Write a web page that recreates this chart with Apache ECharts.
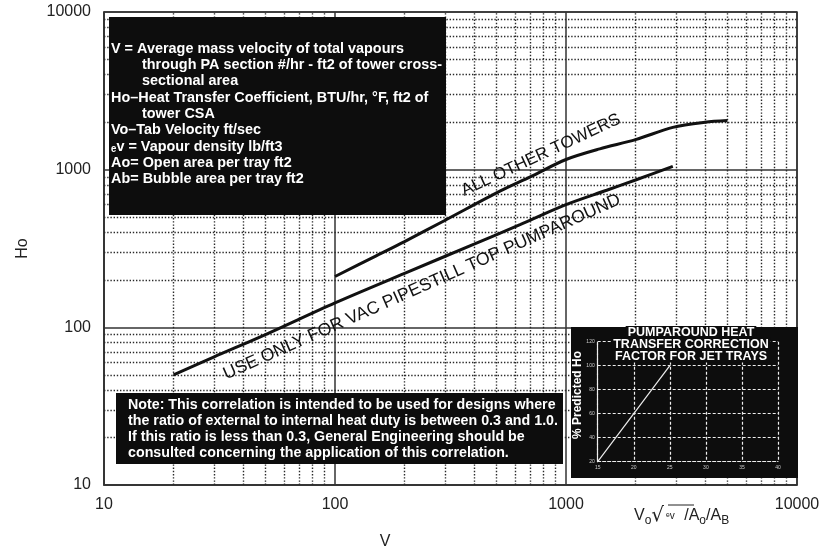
<!DOCTYPE html>
<html><head><meta charset="utf-8">
<script src="https://cdn.jsdelivr.net/npm/echarts@6/dist/echarts.min.js"></script>
<style>html,body{margin:0;padding:0;background:#fff}#c{width:829px;height:552px}</style>
</head><body><div id="c"></div>
<script>
// ---- data ----
const xTickLabels = [10, 100, 1000, 10000];
const yTickLabels = [10, 100, 1000, 10000];
const minorMultipliers = [2, 3, 4, 5, 6, 7, 8, 9];
const decades = [10, 100, 1000];
const allOtherV  = [100, 150, 200, 300, 520, 700, 1000, 1400, 2000, 2900, 4000, 5000];
const allOtherHo = [210, 283, 350, 478, 733, 900, 1160, 1355, 1550, 1855, 2000, 2050];
const vacPaV  = [20, 30, 50, 100, 200, 400, 636, 1000, 1500, 2000, 2900];
const vacPaHo = [50, 65, 90, 143, 220, 337, 450, 600, 740, 860, 1050];
const insetRatio = [15, 25];
const insetPct = [20, 100];
const legendLines = [
  [0, 'V = Average mass velocity of total vapours'],
  [1, 'through PA section #/hr - ft2 of tower cross-'],
  [1, 'sectional area'],
  [0, 'Ho\u2013Heat Transfer Coefficient, BTU/hr, \u00b0F, ft2 of'],
  [1, 'tower CSA'],
  [0, 'Vo\u2013Tab Velocity ft/sec'],
  [0, '\u2091v = Vapour density lb/ft3'],
  [0, 'Ao= Open area per tray ft2'],
  [0, 'Ab= Bubble area per tray ft2']
];
const noteLines = [
  'Note: This correlation is intended to be used for designs where',
  'the ratio of external to internal heat duty is between 0.3 and 1.0.',
  'If this ratio is less than 0.3, General Engineering should be',
  'consulted concerning the application of this correlation.'
];
const insetTitle = ['PUMPAROUND HEAT', 'TRANSFER CORRECTION', 'FACTOR FOR JET TRAYS'];
const curveLabels = ['ALL OTHER TOWERS', 'USE ONLY FOR VAC PIPESTILL TOP PUMPAROUND'];

// ---- build ----
const FONT = '"Liberation Sans", Arial, Helvetica, sans-serif';
const minorVals = [];
decades.forEach(d => minorMultipliers.forEach(m => minorVals.push(m * d)));
const dotted = { type: [1.4, 1.8], color: '#2a2a2a', width: 1.4 };

const chart = echarts.init(document.getElementById('c'), null, { renderer: 'canvas' });

const graphics = [];
// legend box
graphics.push({ type: 'rect', z: 100, shape: { x: 109, y: 17, width: 337, height: 198 }, style: { fill: '#0d0d0d' } });
legendLines.forEach((l, i) => {
  graphics.push({ type: 'text', z: 101, x: 111 + l[0] * 31, y: 48.5 + 16.3 * i, scaleX: 0.93,
    style: { text: l[1], fill: '#fff', font: 'bold 15.5px ' + FONT, align: 'left', verticalAlign: 'middle', textAlign: 'left', textVerticalAlign: 'middle' } });
});
// note box
graphics.push({ type: 'rect', z: 100, shape: { x: 116, y: 393, width: 447, height: 71 }, style: { fill: '#0d0d0d' } });
noteLines.forEach((t, i) => {
  graphics.push({ type: 'text', z: 101, x: 128, y: 405 + 16 * i, scaleX: 0.95,
    style: { text: t, fill: '#fff', font: 'bold 15px ' + FONT, align: 'left', verticalAlign: 'middle', textAlign: 'left', textVerticalAlign: 'middle' } });
});
// inset box
graphics.push({ type: 'rect', z: 100, shape: { x: 571, y: 327, width: 227, height: 151 }, style: { fill: '#0d0d0d' } });
insetTitle.forEach((t, i) => {
  graphics.push({ type: 'text', z: 120, x: 691, y: 332.5 + 11.8 * i,
    style: { text: t, fill: '#fff', font: 'bold 12.5px ' + FONT, align: 'center', verticalAlign: 'middle', textAlign: 'center', textVerticalAlign: 'middle', backgroundColor: '#0d0d0d', padding: [0, 2] } });
});
graphics.push({ type: 'text', z: 120, x: 578, y: 395, rotation: Math.PI / 2,
  style: { text: '% Predicted Ho', fill: '#fff', font: 'bold 12px ' + FONT, align: 'center', verticalAlign: 'middle', textAlign: 'center', textVerticalAlign: 'middle' } });
// curve labels
graphics.push({ type: 'text', z: 50, x: 541, y: 155, rotation: 25 * Math.PI / 180,
  style: { text: curveLabels[0], fill: '#111', font: '17px ' + FONT, align: 'center', verticalAlign: 'middle', textAlign: 'center', textVerticalAlign: 'middle' } });
graphics.push({ type: 'text', z: 50, x: 422, y: 287, rotation: 24 * Math.PI / 180,
  style: { text: curveLabels[1], fill: '#111', font: '17.6px ' + FONT, align: 'center', verticalAlign: 'middle', textAlign: 'center', textVerticalAlign: 'middle' } });
// axis titles
graphics.push({ type: 'text', z: 50, x: 385, y: 542,
  style: { text: 'V', fill: '#222', font: '16px ' + FONT, align: 'center', verticalAlign: 'middle', textAlign: 'center', textVerticalAlign: 'middle' } });
graphics.push({ type: 'text', z: 50, x: 634, y: 516,
  style: { text: '{v|V}{s|o}{r|\u221A}{e|\u1D49v}{v| /A}{s|o}{v|/A}{s|B}', fill: '#222', font: '16px ' + FONT,
    align: 'left', verticalAlign: 'middle', textAlign: 'left', textVerticalAlign: 'middle',
    rich: {
      v: { fontSize: 16, fontFamily: FONT, fill: '#222', color: '#222' },
      s: { fontSize: 12, fontFamily: FONT, padding: [9, 0, 0, 0], fill: '#222', color: '#222' },
      r: { fontSize: 20, fontFamily: 'DejaVu Sans', fill: '#222', color: '#222' },
      e: { fontSize: 10, fontFamily: FONT, padding: [0, 5, 0, 2], fill: '#222', color: '#222' }
    } } });
graphics.push({ type: 'line', z: 50, shape: { x1: 668, y1: 505, x2: 694, y2: 505 }, style: { stroke: '#222', lineWidth: 1 } });

const option = {
  animation: false,
  backgroundColor: '#fff',
  grid: [
    { left: 104, right: 32, top: 12, bottom: 67, show: true, borderColor: '#333', borderWidth: 1.5, backgroundColor: 'transparent' },
    { left: 597.7, top: 341.7, width: 180.3, height: 120, show: false }
  ],
  xAxis: [
    { type: 'log', logBase: 10, min: xTickLabels[0], max: xTickLabels[xTickLabels.length - 1], gridIndex: 0,
      axisLine: { show: true, lineStyle: { color: '#333', width: 1.5 } },
      axisTick: { show: false },
      axisLabel: { color: '#222', fontSize: 16, fontFamily: FONT, margin: 12, formatter: v => String(Math.round(v)) },
      splitLine: { show: true, lineStyle: { color: '#333', width: 1.5, type: 'solid' } } },
    { type: 'value', gridIndex: 1, min: 15, max: 40, interval: 5, z: 110,
      axisLine: { show: true, lineStyle: { color: '#eee', width: 1.2, type: [3, 2] } },
      axisTick: { show: false },
      axisLabel: { color: '#ccc', fontSize: 5, margin: 3 },
      splitLine: { show: true, lineStyle: { color: '#eee', width: 1.2, type: [3, 2] } } }
  ],
  yAxis: [
    { type: 'log', logBase: 10, min: yTickLabels[0], max: yTickLabels[yTickLabels.length - 1], gridIndex: 0,
      name: 'Ho', nameLocation: 'middle', nameGap: 73,
      nameTextStyle: { color: '#222', fontSize: 16, fontFamily: FONT },
      axisLine: { show: true, lineStyle: { color: '#333', width: 1.5 } },
      axisTick: { show: false },
      axisLabel: { color: '#222', fontSize: 16, fontFamily: FONT, margin: 13, formatter: v => String(Math.round(v)) },
      splitLine: { show: true, lineStyle: { color: '#333', width: 1.5, type: 'solid' } } },
    { type: 'value', gridIndex: 1, min: 20, max: 120, interval: 20, z: 110,
      axisLine: { show: true, lineStyle: { color: '#eee', width: 1.2, type: [3, 2] } },
      axisTick: { show: false },
      axisLabel: { color: '#ccc', fontSize: 5, margin: 3 },
      splitLine: { show: true, lineStyle: { color: '#eee', width: 1.2, type: [3, 2] } } }
  ],
  series: [
    { name: 'All other towers', type: 'line', xAxisIndex: 0, yAxisIndex: 0, z: 5,
      data: allOtherV.map((v, i) => [v, allOtherHo[i]]), smooth: 0.3, showSymbol: false, symbol: 'none',
      lineStyle: { color: '#111', width: 3 },
      markLine: { silent: true, symbol: ['none', 'none'], label: { show: false }, lineStyle: dotted, z: 1,
        data: minorVals.map(v => ({ xAxis: v })) } },
    { name: 'Vac pipestill top PA', type: 'line', xAxisIndex: 0, yAxisIndex: 0, z: 5,
      data: vacPaV.map((v, i) => [v, vacPaHo[i]]), smooth: 0.3, showSymbol: false, symbol: 'none',
      lineStyle: { color: '#111', width: 3 },
      markLine: { silent: true, symbol: ['none', 'none'], label: { show: false }, lineStyle: dotted, z: 1,
        data: minorVals.map(v => ({ yAxis: v })) } },
    { name: 'Correction', type: 'line', xAxisIndex: 1, yAxisIndex: 1, z: 115,
      data: insetRatio.map((v, i) => [v, insetPct[i]]), showSymbol: false, symbol: 'none',
      lineStyle: { color: '#eee', width: 1.2 } }
  ],
  graphic: graphics
};
chart.setOption(option);
</script>
</body></html>
